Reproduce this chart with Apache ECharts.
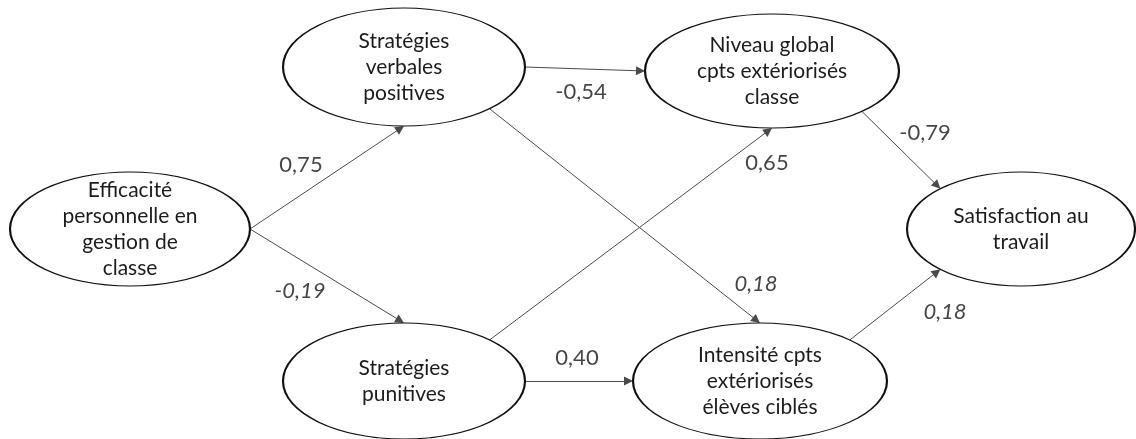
<!DOCTYPE html>
<html>
<head>
<meta charset="utf-8">
<script src="https://cdn.jsdelivr.net/npm/echarts@6/dist/echarts.min.js"></script>
<style>
  html, body { margin: 0; padding: 0; background: #fff; }
  #chart { width: 1136px; height: 439px; }
</style>
</head>
<body>
<div id="chart"></div>
<script>
// variables of the path model
const nodeNames = [
  "Efficacité\npersonnelle en\ngestion de\nclasse",
  "Stratégies\nverbales\npositives",
  "Stratégies\npunitives",
  "Niveau global\ncpts extériorisés\nclasse",
  "Intensité cpts\nextériorisés\nélèves ciblés",
  "Satisfaction au\ntravail",
];
// paths: source, target, coefficient, italic (non significant)
const pathFrom = [0, 0, 1, 1, 2, 2, 3, 4];
const pathTo = [1, 2, 3, 4, 3, 4, 5, 5];
const pathCoef = ["0,75", "-0,19", "-0,54", "0,18", "0,65", "0,40", "-0,79", "0,18"];
const pathItalic = [false, true, false, true, false, false, false, true];

// layout (pixels) - kept apart from the data
const nodeBox = [
  { cx: 130, cy: 229, rx: 120, ry: 57 },
  { cx: 404, cy: 67, rx: 121, ry: 59 },
  { cx: 404, cy: 381, rx: 121, ry: 58 },
  { cx: 772, cy: 71, rx: 127, ry: 57 },
  { cx: 760, cy: 381, rx: 127, ry: 58 },
  { cx: 1021, cy: 229, rx: 114, ry: 57 },
];
// connection angle on source / target ellipse, degrees (y down)
const anchorFrom = [0, 0, 0, 45, -45, 0, 45, -45];
const anchorTo = [90, -90, 180, -90, 90, 180, -135, 135];
const labelPos = [
  [301, 165], [300, 291], [581, 92], [756, 284],
  [767, 163], [577, 358], [925, 133], [945, 312],
];

const ellipse =
  "path://M0,50C0,22.39 22.39,0 50,0C77.61,0 100,22.39 100,50C100,77.61 77.61,100 50,100C22.39,100 0,77.61 0,50Z";
const arrowLen = 9;

function onEllipse(i, deg) {
  const b = nodeBox[i];
  const t = (deg * Math.PI) / 180;
  return [b.cx + b.rx * Math.cos(t), b.cy + b.ry * Math.sin(t)];
}

const lineData = pathFrom.map((f, i) => {
  const p0 = onEllipse(f, anchorFrom[i]);
  const p1 = onEllipse(pathTo[i], anchorTo[i]);
  const dx = p1[0] - p0[0];
  const dy = p1[1] - p0[1];
  const len = Math.sqrt(dx * dx + dy * dy);
  // arrow symbol is centred on the end point, pull it back so the tip touches
  const end = [p1[0] - (dx / len) * arrowLen / 2, p1[1] - (dy / len) * arrowLen / 2];
  return { coords: [p0, end] };
});

const option = {
  animation: false,
  grid: { left: 0, right: 0, top: 0, bottom: 0 },
  xAxis: { type: "value", min: 0, max: 1136, show: false },
  yAxis: { type: "value", min: 0, max: 439, inverse: true, show: false },
  series: [
    {
      type: "lines",
      coordinateSystem: "cartesian2d",
      z: 1,
      symbol: ["none", "triangle"],
      symbolSize: [8, arrowLen],
      lineStyle: { color: "#4a4a4a", width: 1, opacity: 1 },
      data: lineData,
    },
    {
      type: "scatter",
      z: 2,
      symbol: ellipse,
      symbolSize: (v, p) => [nodeBox[p.dataIndex].rx * 2, nodeBox[p.dataIndex].ry * 2],
      itemStyle: { color: "#fff", borderColor: "#111", borderWidth: 1.5, opacity: 1 },
      label: {
        show: true,
        position: "inside",
        formatter: (p) => nodeNames[p.dataIndex],
        fontFamily: "Lato",
        fontSize: 21,
        lineHeight: 26,
        color: "#1c1c1c",
      },
      emphasis: { disabled: true },
      data: nodeNames.map((n, i) => [nodeBox[i].cx, nodeBox[i].cy]),
    },
    {
      type: "scatter",
      z: 3,
      symbolSize: 0,
      label: {
        show: true,
        position: "inside",
        formatter: (p) => pathCoef[p.dataIndex],
        fontFamily: "Lato",
        fontSize: 22,
        color: "#151515",
      },
      emphasis: { disabled: true },
      data: pathCoef.map((c, i) => ({
        value: labelPos[i],
        label: { fontStyle: pathItalic[i] ? "italic" : "normal" },
      })),
    },
  ],
};

const myChart = echarts.init(document.getElementById("chart"));
myChart.setOption(option);
</script>
</body>
</html>
